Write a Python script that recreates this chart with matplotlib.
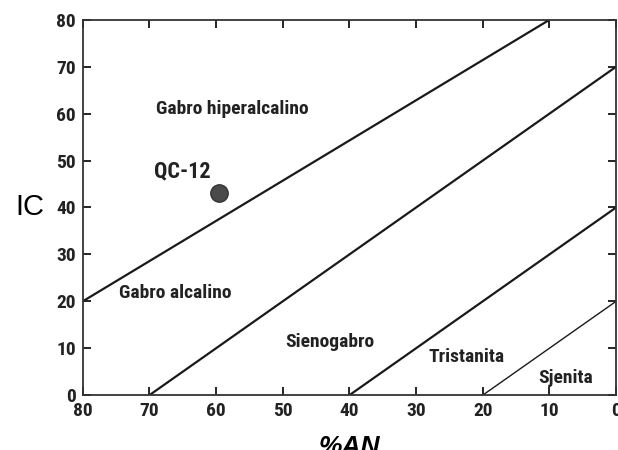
import matplotlib
matplotlib.use("Agg")
import matplotlib.pyplot as plt
from matplotlib import font_manager

names = {f.name for f in font_manager.fontManager.ttflist}
narrow = 'Liberation Sans'
for cand in ['Liberation Sans Narrow', 'Roboto Condensed', 'Arimo Narrow',
             'Archivo Narrow', 'Barlow Semi Condensed']:
    if cand in names:
        narrow = cand
        break

# Boundary lines (x = %AN, y = IC)
boundaries = [
    ([80, 10], [20, 80], 1.6),
    ([70, 0], [0, 70], 1.6),
    ([40, 0], [0, 40], 1.6),
    ([20, 0], [0, 20], 1.0),
]
sample_name = "QC-12"
sample_an = [59.5]
sample_ic = [43]

field_labels = ["Gabro hiperalcalino", "Gabro alcalino", "Sienogabro", "Tristanita", "Sjenita"]
field_x = [57.6, 66.2, 42.9, 22.5, 7.6]
field_y = [61, 21.7, 11.3, 8.1, 3.6]

xticks = [80, 70, 60, 50, 40, 30, 20, 10, 0]
yticks = [0, 10, 20, 30, 40, 50, 60, 70, 80]

fig = plt.figure(figsize=(6.18, 4.5), dpi=100)
ax = fig.add_axes([0.134, 0.122, 0.863, 0.834])

for xs, ys, lw in boundaries:
    ax.plot(xs, ys, color='#1a1a1a', lw=lw, solid_capstyle='butt')

ax.plot(sample_an, sample_ic, 'o', ms=12.5, color='#4a4a4a', mec='#333333')
ax.text(65.1, 47.6, sample_name, fontsize=16, fontweight='semibold', family=narrow,
        ha='center', va='center', color='#222222')

for lab, x, y in zip(field_labels, field_x, field_y):
    ax.text(x, y, lab, fontsize=14, fontweight='semibold', family=narrow,
            ha='center', va='center', color='#222222')

ax.set_xlim(80, 0)
ax.set_ylim(0, 80)
ax.set_xticks(xticks)
ax.set_yticks(yticks)
ax.tick_params(direction='in', length=6, width=1.2, top=True, right=True,
               labelsize=14, pad=5)
for t in ax.xaxis.get_major_ticks():
    if t.get_loc() == 50:
        t.tick1line.set_markersize(13)
        t.tick2line.set_markersize(13)
for t in ax.yaxis.get_major_ticks():
    if t.get_loc() == 50:
        t.tick1line.set_markersize(13)
        t.tick2line.set_markersize(13)
for lbl in ax.get_xticklabels() + ax.get_yticklabels():
    lbl.set_fontweight('bold')
    lbl.set_family(narrow)
    lbl.set_color('#222222')

for s in ax.spines.values():
    s.set_linewidth(1.3)
    s.set_color('#333333')

ax.set_ylabel("IC", fontsize=21, rotation=0, family='Liberation Sans', labelpad=2, va='center')
ax.yaxis.set_label_coords(-0.1, 0.5)
ax.set_xlabel("%AN", fontsize=19, fontweight='bold', style='italic', family='Liberation Sans')
ax.xaxis.set_label_coords(0.5, -0.105)
ax.xaxis.label.set_va('top')

fig.savefig("out.png", dpi=100)
